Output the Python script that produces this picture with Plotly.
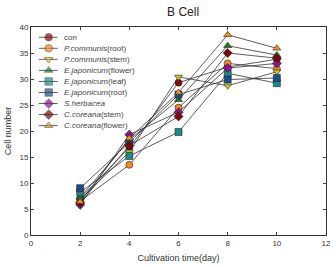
import plotly.graph_objects as go

days = [2, 4, 6, 8, 10]
names = ["con", "<i>P.communis</i>(root)", "<i>P.communis</i>(stem)", "<i>E.japonicum</i>(flower)",
         "<i>E.japonicum</i>(leaf)", "<i>E.japonicum</i>(root)", "<i>S.herbacea</i>",
         "<i>C.coreana</i>(stem)", "<i>C.coreana</i>(flower)"]
con = [7.0, 16.8, 29.3, 32.3, 33.8]
pc_root = [6.5, 13.5, 24.5, 33.0, 32.0]
pc_stem = [6.8, 16.0, 30.4, 28.7, 31.4]
ej_flower = [7.2, 18.3, 26.0, 36.4, 34.6]
ej_leaf = [8.2, 15.2, 19.8, 31.1, 29.2]
ej_root = [9.0, 17.8, 27.0, 29.9, 30.2]
s_herb = [5.8, 19.3, 23.6, 32.1, 33.0]
cc_stem = [6.2, 17.2, 22.8, 35.0, 34.0]
cc_flower = [6.4, 18.6, 27.4, 38.5, 35.9]
series = [con, pc_root, pc_stem, ej_flower, ej_leaf, ej_root, s_herb, cc_stem, cc_flower]

colors = ["#8B0A0A", "#F28C1E", "#C8C21E", "#1E7A1E", "#1A8C8C", "#1A4E8A", "#8A168A", "#7A0808", "#F0901E"]
symbols = ["circle", "circle", "triangle-down", "triangle-up", "square", "square", "diamond", "diamond", "triangle-up"]

fig = go.Figure()
for n, s, c, sym in zip(names, series, colors, symbols):
    fig.add_trace(go.Scatter(x=days, y=s, name=n, mode="lines+markers", showlegend=False,
                             line=dict(color="#333333", width=0.8),
                             marker=dict(symbol=sym, size=7, color=c, line=dict(color="#222222", width=0.6))))

# manual compact legend on an overlay axis measured in pixels from the plot's top-left
LEG_Y0, LEG_DY = 10.3, 11.1
annotations = []
for i, (n, c, sym) in enumerate(zip(names, colors, symbols)):
    yy = LEG_Y0 + LEG_DY * i
    fig.add_trace(go.Scatter(x=[8, 18, 27], y=[yy, yy, yy], xaxis="x2", yaxis="y2",
                             mode="lines+markers", showlegend=False, hoverinfo="skip",
                             line=dict(color="#333333", width=0.8),
                             marker=dict(symbol=sym, size=[0, 7.5, 0], color=c,
                                         line=dict(color="#222222", width=[0, 0.6, 0]))))
    annotations.append(dict(text=n, x=32, y=yy, xref="x2", yref="y2", xanchor="left",
                            yanchor="middle", showarrow=False,
                            font=dict(size=8, color="#444444")))

fig.update_layout(
    width=336, height=267,
    margin=dict(l=31, r=5, t=27, b=31),
    paper_bgcolor="white", plot_bgcolor="white",
    font=dict(family="Liberation Sans, Arial, sans-serif", size=8, color="#333333"),
    title=dict(text="B Cell", x=0.545, xanchor="center", y=0.955, yanchor="middle",
               font=dict(size=12, color="#222222")),
    showlegend=False,
    annotations=annotations,
    xaxis2=dict(overlaying="x", range=[0, 300], visible=False, fixedrange=True),
    yaxis2=dict(overlaying="y", range=[209, 0], visible=False, fixedrange=True),
    xaxis=dict(range=[0, 12], tickvals=[0, 2, 4, 6, 8, 10, 12], ticks="inside", ticklen=3,
               showline=True, linecolor="#333333", linewidth=1, mirror="ticks", showgrid=False,
               zeroline=False, title=dict(text="Cultivation time(day)", font=dict(size=9), standoff=8)),
    yaxis=dict(range=[0, 40], tickvals=[0, 5, 10, 15, 20, 25, 30, 35, 40], ticks="inside", ticklen=3,
               showline=True, linecolor="#333333", linewidth=1, mirror="ticks", showgrid=False,
               zeroline=False, title=dict(text="Cell number", font=dict(size=9), standoff=6)),
)

fig.write_html("out.html")
